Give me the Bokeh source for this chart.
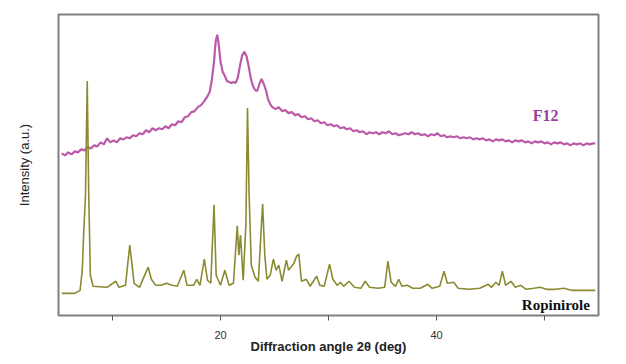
from bokeh.plotting import figure
from bokeh.models import FixedTicker, Range1d, Label
from bokeh.embed import file_html
from bokeh.resources import INLINE

# ---- data (2θ in degrees, intensity in arbitrary units) ----
rop_x = [5.3, 6.5, 7.0, 7.2, 7.35, 7.5, 7.66, 7.8, 7.95, 8.2, 9.5, 10.3, 10.6, 11.2, 11.6, 12.0,
         12.5, 13.3, 13.6, 14.0, 14.5, 15.0, 15.5, 16.0, 16.6, 16.9, 17.5, 17.8, 18.1, 18.5, 18.8,
         19.1, 19.4, 19.6, 20.0, 20.4, 20.8, 21.2, 21.55, 21.7, 21.85, 22.1, 22.35, 22.5, 22.65,
         22.85, 23.2, 23.5, 23.9, 24.1, 24.3, 24.6, 24.9, 25.15, 25.4, 25.7, 26.1, 26.3, 26.8,
         27.05, 27.25, 27.5, 27.95, 28.3, 28.9, 29.2, 29.6, 30.1, 30.4, 30.8, 31.1, 31.4, 31.9,
         32.4, 33.0, 33.4, 33.8, 34.6, 35.2, 35.5, 35.8, 36.2, 36.5, 36.8, 37.3, 37.8, 38.5, 39.2,
         39.6, 40.3, 40.7, 41.0, 41.6, 42.0, 43.0, 44.0, 44.8, 45.1, 45.5, 45.8, 46.1, 46.4, 46.9,
         47.3, 47.8, 48.3, 49.0, 49.6, 50.2, 51.0, 51.8, 52.5, 53.5, 54.7]
rop_y = [22, 22, 25, 45, 86, 120, 233, 120, 40, 29, 28, 34, 28, 30, 70, 32,
         28, 48, 36, 30, 30, 32, 30, 29, 45, 30, 30, 36, 30, 56, 35,
         32, 110, 40, 30, 45, 30, 32, 89, 60, 80, 35, 90, 206, 120,
         50, 38, 34, 111, 60, 36, 40, 56, 45, 50, 34, 55, 45, 52,
         59, 61, 34, 36, 29, 39, 30, 29, 51, 36, 30, 33, 29, 34,
         28, 27, 34, 28, 27, 28, 54, 33, 29, 36, 29, 30, 27, 27, 31,
         27, 29, 44, 32, 33, 27, 26, 27, 31, 28, 33, 30, 44, 30, 34,
         28, 30, 26, 27, 28, 26, 26, 27, 25, 25, 25]

f12_x = [5.3, 5.6, 5.9, 6.2, 6.5, 6.8, 7.1, 7.4, 7.7, 8.0, 8.3, 8.6, 8.9, 9.2, 9.5, 9.8, 10.1,
         10.4, 10.7, 11.0, 11.3, 11.6, 11.9, 12.2, 12.5, 12.8, 13.1, 13.4, 13.7, 14.0, 14.3, 14.6,
         14.9, 15.2, 15.5, 15.8, 16.1, 16.4, 16.7, 17.0, 17.3, 17.6, 17.9, 18.2, 18.5, 18.8, 19.0,
         19.2, 19.4, 19.55, 19.7, 19.85, 20.0, 20.2, 20.4, 20.6, 20.8, 21.0, 21.2, 21.4, 21.6,
         21.8, 22.0, 22.2, 22.4, 22.6, 22.8, 23.0, 23.2, 23.4, 23.6, 23.8, 24.0, 24.2, 24.4, 24.6,
         24.8, 25.1, 25.4, 25.7, 26.0, 26.3, 26.6, 26.9, 27.2, 27.5, 27.8, 28.1, 28.4, 28.7, 29.0,
         29.3, 29.6, 29.9, 30.2, 30.5, 30.8, 31.1, 31.4, 31.7, 32.0, 32.3, 32.6, 32.9, 33.2, 33.5,
         33.8, 34.1, 34.4, 34.7, 35.0, 35.3, 35.6, 35.9, 36.2, 36.5, 36.8, 37.1, 37.4, 37.7, 38.0,
         38.3, 38.6, 38.9, 39.2, 39.5, 39.8, 40.1, 40.4, 40.7, 41.0, 41.3, 41.6, 41.9, 42.2, 42.5,
         42.8, 43.1, 43.4, 43.7, 44.0, 44.3, 44.6, 44.9, 45.2, 45.5, 45.8, 46.1, 46.4, 46.7, 47.0,
         47.3, 47.6, 47.9, 48.2, 48.5, 48.8, 49.1, 49.4, 49.7, 50.0, 50.3, 50.6, 50.9, 51.2, 51.5,
         51.8, 52.1, 52.4, 52.7, 53.0, 53.3, 53.6, 53.9, 54.2, 54.5, 54.7]
f12_y = [161, 159, 162, 160, 163, 162, 165, 164, 167, 166, 169, 168, 172, 170, 176, 172, 174,
         172, 176, 175, 177, 176, 179, 178, 181, 180, 184, 182, 186, 184, 186, 185,
         188, 186, 190, 189, 193, 192, 197, 198, 202, 203, 207, 209, 213, 218, 222,
         234, 252, 272, 279, 268, 252, 242, 238, 233, 232, 231, 232, 231, 236,
         248, 258, 262, 258, 248, 236, 228, 224, 223, 230, 235, 230, 224, 215, 210,
         207, 205, 207, 203, 204, 201, 202, 199, 200, 197, 198, 195, 196, 193, 194,
         191, 192, 189, 190, 188, 189, 186, 187, 185, 186, 183, 184, 182, 183, 180,
         182, 181, 182, 180, 182, 181, 183, 180, 181, 179, 180, 181, 180, 182, 180,
         181, 179, 180, 178, 180, 179, 181, 178, 179, 177, 178, 177, 178, 176, 177,
         176, 177, 175, 176, 175, 176, 174, 175, 173, 175, 174, 175, 173, 174, 172,
         174, 173, 174, 172, 173, 171, 173, 172, 173, 171, 172, 170, 172, 171, 172,
         170, 171, 169, 171, 170, 171, 169, 171, 170, 171, 171]

x_ticks = [10, 20, 30, 40, 50]
x_tick_labels = {10: "", 20: "20", 30: "", 40: "40", 50: ""}

p = figure(width=610, height=360, output_backend="svg", toolbar_location=None,
           x_range=Range1d(5, 55), y_range=Range1d(0, 299),
           min_border_left=58, min_border_right=12, min_border_top=14, min_border_bottom=45)
p.background_fill_color = "white"
p.border_fill_color = "white"
p.grid.visible = False
p.outline_line_color = "#808080"
p.outline_line_width = 2

p.line(f12_x, f12_y, line_color="#b4489f", line_width=2.2, line_alpha=0.9)
p.line(rop_x, rop_y, line_color="#8a8a32", line_width=1.6)

# x axis
p.xaxis.ticker = FixedTicker(ticks=x_ticks)
p.xaxis.major_label_overrides = x_tick_labels
p.xaxis.minor_tick_line_color = None
p.xaxis.major_tick_out = 5
p.xaxis.major_tick_in = 0
p.xaxis.major_tick_line_color = "#555555"
p.xaxis.axis_line_color = None
p.xaxis.major_label_text_font = "Liberation Sans"
p.xaxis.major_label_text_font_size = "11px"
p.xaxis.major_label_text_color = "#333333"
p.xaxis.major_label_standoff = 10
p.xaxis.axis_label = "Diffraction angle 2θ (deg)"
p.xaxis.axis_label_text_font = "Liberation Sans"
p.xaxis.axis_label_text_font_style = "bold"
p.xaxis.axis_label_text_font_size = "13px"
p.xaxis.axis_label_text_color = "#222222"
p.xaxis.axis_label_standoff = -3

# y axis
p.yaxis.ticker = FixedTicker(ticks=[])
p.yaxis.minor_tick_line_color = None
p.yaxis.major_tick_line_color = None
p.yaxis.axis_line_color = None
p.yaxis.major_label_text_font_size = "0px"
p.yaxis.axis_label = "Intensity (a.u.)"
p.yaxis.axis_label_text_font = "Liberation Sans"
p.yaxis.axis_label_text_font_style = "normal"
p.yaxis.axis_label_text_font_size = "13px"
p.yaxis.axis_label_text_color = "#222222"
p.yaxis.axis_label_standoff = 27

p.add_layout(Label(x=50.1, y=199, text="F12", text_font="Liberation Serif",
                   text_font_style="bold", text_font_size="16px", text_color="#9a3c9c",
                   text_align="center", text_baseline="middle"))
p.add_layout(Label(x=54.2, y=10, text="Ropinirole", text_font="Liberation Serif",
                   text_font_style="bold", text_font_size="15px", text_color="#111111",
                   text_align="right", text_baseline="middle"))

open("out.html", "w").write(file_html(p, INLINE))
